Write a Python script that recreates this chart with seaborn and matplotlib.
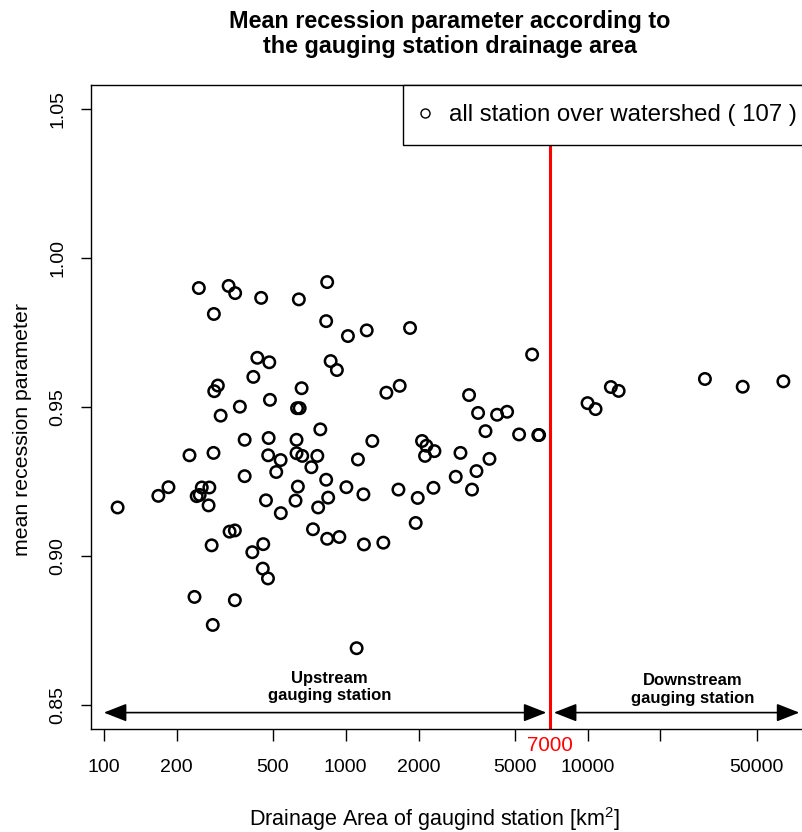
import numpy as np
import pandas as pd
import matplotlib
matplotlib.use("Agg")
import matplotlib.pyplot as plt
import matplotlib.transforms as mtransforms
from matplotlib.lines import Line2D
from matplotlib.ticker import NullLocator
import seaborn as sns

# ---------------- data ----------------
area_km2 = [247, 328, 349, 447, 640, 838, 285, 830, 431, 483, 415, 866, 296, 286, 657,
            486, 365, 629, 645, 304, 785, 382, 480, 626, 226, 284, 478, 538, 626, 661,
            763, 721, 516, 382, 830, 185, 168, 254, 273, 242, 249, 271, 114, 468, 634,
            620, 846, 769, 539, 331, 348, 732, 838, 279, 456, 411, 454, 477, 237, 348,
            282, 1021, 1221, 1844, 919, 5894, 1472, 1671, 3234, 3524, 4223, 4645, 3781,
            5207, 6300, 6250, 1288, 2067, 2155, 2326, 2127, 1123, 2980, 3927, 3470, 2849,
            3327, 1006, 1183, 1651, 1984, 2304, 1946, 941, 1189, 1430, 1109, 9990, 10780,
            12470, 13430, 30530, 43740, 64420]
recession = [0.9899, 0.9906, 0.9882, 0.9866, 0.9861, 0.9919, 0.9812, 0.9788, 0.9665, 0.9650,
             0.9601, 0.9654, 0.9572, 0.9553, 0.9563, 0.9524, 0.9501, 0.9496, 0.9496, 0.9471,
             0.9425, 0.9390, 0.9396, 0.9390, 0.9338, 0.9346, 0.9338, 0.9322, 0.9345, 0.9336,
             0.9336, 0.9298, 0.9282, 0.9268, 0.9256, 0.9231, 0.9202, 0.9230, 0.9230, 0.9201,
             0.9205, 0.9170, 0.9163, 0.9187, 0.9233, 0.9186, 0.9196, 0.9163, 0.9144, 0.9082,
             0.9086, 0.9090, 0.9058, 0.9036, 0.9040, 0.9013, 0.8958, 0.8925, 0.8863, 0.8852,
             0.8769, 0.9738, 0.9757, 0.9765, 0.9624, 0.9676, 0.9548, 0.9571, 0.9540, 0.9480,
             0.9474, 0.9484, 0.9419, 0.9408, 0.9406, 0.9406, 0.9386, 0.9386, 0.9370, 0.9352,
             0.9336, 0.9324, 0.9346, 0.9326, 0.9285, 0.9266, 0.9223, 0.9231, 0.9207, 0.9223,
             0.9195, 0.9229, 0.9111, 0.9064, 0.9039, 0.9045, 0.8691, 0.9513, 0.9493, 0.9567,
             0.9554, 0.9594, 0.9568, 0.9586]
x_ticks = [100, 200, 500, 1000, 2000, 5000, 10000, 20000, 50000]
x_tick_labels = ["100", "200", "500", "1000", "2000", "5000", "10000", "", "50000"]
y_ticks = [0.85, 0.90, 0.95, 1.00, 1.05]
y_tick_labels = ["0.85", "0.90", "0.95", "1.00", "1.05"]
threshold_area = 7000
n_stations = 107
arrow_level = 0.8475
upstream_range = [100, 6750]
downstream_range = [7250, 75000]
title_lines = ["Mean recession parameter according to", "the gauging station drainage area"]

df = pd.DataFrame({"area": area_km2, "recession": recession})

# ---------------- style ----------------
sns.set_style("white")
plt.rcParams["font.family"] = ["Liberation Sans", "DejaVu Sans"]
plt.rcParams["mathtext.fontset"] = "custom"
plt.rcParams["mathtext.rm"] = "Liberation Sans"
plt.rcParams["mathtext.it"] = "Liberation Sans:italic"
plt.rcParams["mathtext.bf"] = "Liberation Sans:bold"
for key in ["text.color", "axes.labelcolor", "xtick.color", "ytick.color", "axes.edgecolor"]:
    plt.rcParams[key] = "black"

W, H = 802, 832
fig = plt.figure(figsize=(W / 100, H / 100), dpi=100)
ax = fig.add_axes([91 / W, 103 / H, 719 / W, 644 / H])

sns.scatterplot(data=df, x="area", y="recession", marker="o", s=68,
                facecolor="none", edgecolor="black", linewidth=1.8,
                ax=ax, legend=False, zorder=3)

ax.set_xscale("log")
ax.set_xlim(88.5, 83000)
ax.set_ylim(0.842, 1.058)

# threshold line
ax.axvline(threshold_area, color="#ff0000", lw=2.2, zorder=2)
blend = mtransforms.blended_transform_factory(ax.transData, ax.transAxes)
ax.text(threshold_area, -0.011, str(threshold_area), transform=blend, color="#ff0000",
        ha="center", va="top", fontsize=14.8)

# double arrows
astyle = "<|-|>,head_length=1.4,head_width=0.55"
ax.annotate("", xy=(upstream_range[1], arrow_level), xytext=(upstream_range[0], arrow_level),
            arrowprops=dict(arrowstyle=astyle, color="black", lw=1.2, shrinkA=0, shrinkB=0,
                            mutation_scale=10), zorder=4)
ax.annotate("", xy=(downstream_range[1], arrow_level), xytext=(downstream_range[0], arrow_level),
            arrowprops=dict(arrowstyle=astyle, color="black", lw=1.2, shrinkA=0, shrinkB=0,
                            mutation_scale=10), zorder=4)
ax.text(857, 0.8560, "Upstream\ngauging station", ha="center", va="center",
        fontweight="bold", fontsize=12, linespacing=1.2)
ax.text(27200, 0.8553, "Downstream\ngauging station", ha="center", va="center",
        fontweight="bold", fontsize=12, linespacing=1.2)

# ticks
ax.set_xticks(x_ticks)
ax.set_xticklabels(x_tick_labels)
ax.xaxis.set_minor_locator(NullLocator())
ax.set_yticks(y_ticks)
ax.set_yticklabels(y_tick_labels)
ax.tick_params(axis="x", bottom=True, length=8.6, width=1.0, pad=13, labelsize=14,
               direction="out", color="black", labelcolor="black")
ax.tick_params(axis="y", left=True, length=7.2, width=1.0, pad=10.5, labelsize=14,
               direction="out", color="black", labelcolor="black", labelrotation=90)
for lab in ax.get_yticklabels():
    lab.set_va("center")

for side in ["left", "top", "bottom"]:
    ax.spines[side].set_color("black")
    ax.spines[side].set_linewidth(1.0)
ax.spines["right"].set_visible(False)

# axis labels
ax.set_xlabel(r"Drainage Area of gaugind station [km$^{2}$]", fontsize=15.5, color="black")
ax.xaxis.label.set_va("baseline")
ax.xaxis.set_label_coords((434 - 91) / 719, (729 - 826) / 644)
ax.set_ylabel("mean recession parameter", fontsize=15.3, color="black")
ax.yaxis.label.set_va("baseline")
ax.yaxis.set_label_coords((28 - 91) / 719, (729 - 430) / 644)

# legend
handle = Line2D([], [], marker="o", ls="none", mfc="none", mec="black", ms=6.5, mew=1.0)
leg = ax.legend([handle], [f"all station over watershed ( {n_stations} )"],
                loc="upper left", bbox_to_anchor=((403 - 91) / 719, 1.0), borderaxespad=0,
                frameon=True, fancybox=False, edgecolor="black", framealpha=1,
                fontsize=17.3, borderpad=0.8, handlelength=0.22, handletextpad=0.9)
leg.get_frame().set_linewidth(1.0)
for t in leg.get_texts():
    t.set_color("black")
leg.set_zorder(10)

# title (two centred bold lines)
fig.text(450 / W, 1 - 27.7 / H, title_lines[0], ha="center", va="baseline",
         fontweight="bold", fontsize=16.8, color="black")
fig.text(450 / W, 1 - 53 / H, title_lines[1], ha="center", va="baseline",
         fontweight="bold", fontsize=16.8, color="black")

fig.savefig("out.png", dpi=100, facecolor="white")
